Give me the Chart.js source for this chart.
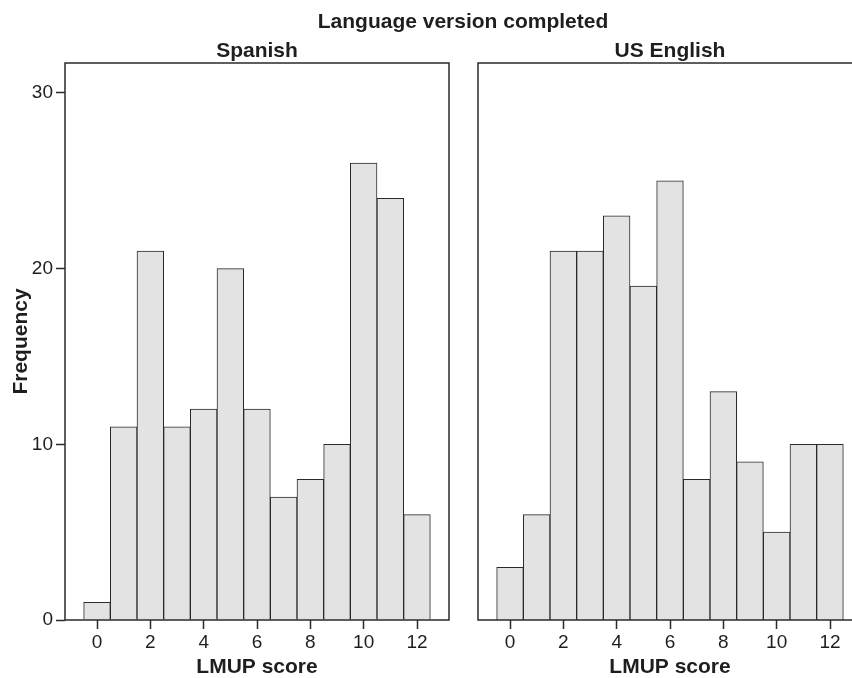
<!DOCTYPE html>
<html>
<head>
<meta charset="utf-8">
<title>LMUP score by language version</title>
<script src="https://cdn.jsdelivr.net/npm/chart.js@4.4.6/dist/chart.umd.min.js"></script>
<style>
  html, body { margin: 0; padding: 0; background: #fff; }
  #wrap { position: relative; width: 852px; height: 678px; overflow: hidden; }
  #leftBox { position: absolute; left: 0; top: 0; width: 852px; height: 678px; }
  #rightBox { position: absolute; left: 460px; top: 0; width: 402px; height: 678px; }
</style>
</head>
<body>
<div id="wrap">
  <div id="leftBox"><canvas id="chartSpanish"></canvas></div>
  <div id="rightBox"><canvas id="chartEnglish"></canvas></div>
</div>
<script>
const scores = [0, 1, 2, 3, 4, 5, 6, 7, 8, 9, 10, 11, 12]
const spanishFreq = [1, 11, 21, 11, 12, 20, 12, 7, 8, 10, 26, 24, 6]
const englishFreq = [3, 6, 21, 21, 23, 19, 25, 8, 13, 9, 5, 10, 10]
const xTickValues = [0, 2, 4, 6, 8, 10, 12]
const yTickValues = [0, 10, 20, 30]
const mainTitle = "Language version completed"
const panelTitles = ["Spanish", "US English"]

const FONT = "'Liberation Sans', Arial, sans-serif"
const INK = "#1e1e1e"

// frame round the plot area + panel titles
const framePlugin = {
    id: "frame",
    afterDraw(chart, args, opts) {
        const { ctx, chartArea: a } = chart
        ctx.save()
        ctx.strokeStyle = "#2a2a2a"
        ctx.lineWidth = 1.5
        ctx.strokeRect(a.left, a.top, a.right - a.left, a.bottom - a.top)
        ctx.fillStyle = INK
        ctx.textAlign = "center"
        ctx.textBaseline = "alphabetic"
        ctx.font = "bold 21px " + FONT
        ctx.fillText(opts.panel, (a.left + a.right) / 2, 57)
        if (opts.main) ctx.fillText(opts.main, 463, 28)
        ctx.restore()
    },
}

function newChart(elementId, freq, panel, isLeft) {
    const data = scores.map((s, i) => ({ x: s, y: freq[i] }))
    const config = {
        type: "bar",
        data: {
            datasets: [{
                data: data,
                backgroundColor: "#e3e3e3",
                borderColor: "#2a2a2a",
                borderWidth: 1,
                barPercentage: 1,
                categoryPercentage: 1,
            }],
        },
        options: {
            responsive: true,
            maintainAspectRatio: false,
            animation: false,
            layout: {
                padding: isLeft ? { top: 63, right: 403, left: 0, bottom: 0 } : { top: 63, right: 0, left: 18, bottom: 0 },
            },
            plugins: {
                legend: { display: false },
                tooltip: { enabled: false },
                frame: { panel: panel, main: isLeft ? mainTitle : null },
            },
            scales: {
                x: {
                    type: "linear",
                    min: -1.2,
                    max: 13.2,
                    offset: false,
                    afterBuildTicks: s => { s.ticks = xTickValues.map(v => ({ value: v })) },
                    afterFit: s => { s.height = 58 },
                    border: { display: false },
                    grid: {
                        offset: false,
                        drawOnChartArea: false,
                        drawTicks: true,
                        tickLength: 9,
                        tickWidth: 1.5,
                        tickColor: "#2a2a2a",
                    },
                    ticks: {
                        color: INK,
                        font: { family: FONT, size: 19 },
                        padding: 2,
                        maxRotation: 0,
                        autoSkip: false,
                    },
                    title: {
                        display: true,
                        text: "LMUP score",
                        color: INK,
                        font: { family: FONT, size: 21, weight: "bold", lineHeight: 1 },
                        padding: { top: 0, bottom: 0 },
                    },
                },
                y: {
                    display: isLeft,
                    min: 0,
                    max: 31.7,
                    afterBuildTicks: s => { s.ticks = yTickValues.map(v => ({ value: v })) },
                    afterFit: s => { if (isLeft) s.width = 65 },
                    border: { display: false },
                    grid: {
                        drawOnChartArea: false,
                        drawTicks: true,
                        tickLength: 9,
                        tickWidth: 1.5,
                        tickColor: "#2a2a2a",
                    },
                    ticks: {
                        color: INK,
                        font: { family: FONT, size: 19 },
                        padding: 3,
                    },
                    title: {
                        display: true,
                        text: "Frequency",
                        color: INK,
                        font: { family: FONT, size: 21, weight: "bold", lineHeight: 1.2 },
                        padding: { top: 9, bottom: 9 },
                    },
                },
            },
        },
        plugins: [framePlugin],
    }
    return new Chart(document.getElementById(elementId), config)
}

newChart("chartSpanish", spanishFreq, panelTitles[0], true)
newChart("chartEnglish", englishFreq, panelTitles[1], false)
</script>
</body>
</html>
